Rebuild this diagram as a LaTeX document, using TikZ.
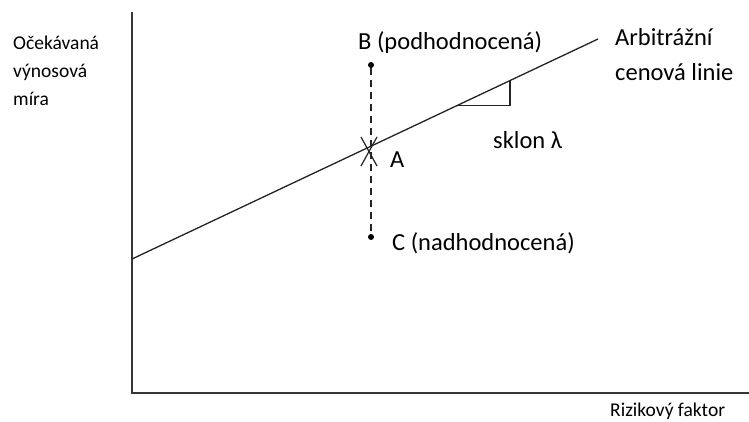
\documentclass[tikz,border=0pt]{standalone}
\usepackage{fontspec}
\setmainfont{Carlito}
\usetikzlibrary{arrows.meta, positioning, calc}
\definecolor{axisgray}{RGB}{55,55,55}
\definecolor{linegray}{RGB}{35,35,35}

\begin{document}
\begin{tikzpicture}[x=1pt, y=-1pt,
  bigtxt/.style={font=\fontsize{24.5}{29}\selectfont, anchor=base west, inner sep=0pt},
  smalltxt/.style={font=\fontsize{19.5}{28}\selectfont, anchor=base west, inner sep=0pt},
  dot/.style={circle, fill=black, inner sep=0pt, minimum size=6pt}]
  \useasboundingbox (0,0) rectangle (749,421);
  \coordinate (O) at (132,393);
  \coordinate (Ytop) at (132,12);
  \coordinate (Xend) at (749,393);
  \coordinate (L0) at (132,259);
  \coordinate (L1) at (598,39);
  \coordinate (A) at (369,151);

  % osy
  \draw[line width=2pt, axisgray] (Ytop) -- (O) -- (Xend);

  % cenova linie
  \draw[line width=1.3pt, linegray] (L0) -- (L1);
  \coordinate (T1) at ($(L0)!0.697!(L1)$);
  \coordinate (T2) at ($(L0)!0.811!(L1)$);
  \draw[line width=1.3pt, linegray] (T1) -- (T1 -| T2) -- (T2);

  % body B a C
  \node[dot] (B) at (371,65) {};
  \node[dot] (C) at (371,237) {};
  \draw[line width=1.2pt, linegray, dash pattern=on 7pt off 5pt] (B) -- (C);
  \draw[line width=1.2pt, linegray] ($(A)+(-8,-14)$) -- ($(A)+(8,15)$);
  \draw[line width=1.2pt, linegray] ($(A)+(8,-14)$) -- ($(A)+(-8,15)$);

  \node[bigtxt] (Blab) at (358,49) {B (podhodnocená)};
  \node[bigtxt] (Alab) at (390,167) {A};
  \node[bigtxt] (Clab) at (392,250) {C (nadhodnocená)};
  \node[bigtxt] (sklon) at (493,148) {sklon λ};
  \node[bigtxt] (apl1) at (615,45) {Arbitrážní};
  \node[bigtxt] (apl2) at (615,80) {cenová linie};

  \node[smalltxt, align=left] (ylab) at (13,105) {Očekávaná\\výnosová\\míra};
  \node[smalltxt] (xlab) at (610,416) {Rizikový faktor};
\end{tikzpicture}
\end{document}
